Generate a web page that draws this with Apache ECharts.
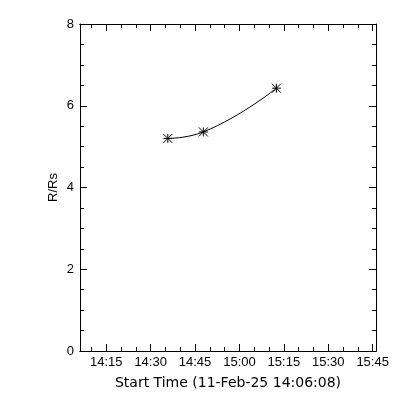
<!DOCTYPE html>
<html>
<head>
<meta charset="utf-8">
<script src="https://cdn.jsdelivr.net/npm/echarts@6/dist/echarts.min.js"></script>
<style>html,body{margin:0;padding:0;background:#fff}#c{width:400px;height:400px}</style>
</head>
<body>
<div id="c"></div>
<script>
// ---- data ----
const startTime = '14:06:08';
const endTime = '15:46:08';
const pointTimes = ['14:35:48', '14:47:48', '15:12:29'];
const pointHeights = [5.20, 5.36, 6.43];
const majorTickLabels = ['14:15', '14:30', '14:45', '15:00', '15:15', '15:30', '15:45'];
const minorTickTimes = ['14:10', '14:20', '14:25', '14:35', '14:40', '14:50', '14:55', '15:05', '15:10', '15:20', '15:25', '15:35', '15:40'];
const yTicks = [0, 2, 4, 6, 8];
const xTitle = 'Start Time (11-Feb-25 14:06:08)';
const yTitle = 'R/Rs';

function toMin(s) {
  const p = s.split(':').map(Number);
  return p[0] * 60 + p[1] + (p[2] || 0) / 60;
}
function fmt(v) {
  const h = Math.floor(v / 60), m = Math.round(v - h * 60);
  return h + ':' + (m < 10 ? '0' : '') + m;
}
const xMin = toMin(startTime), xMax = toMin(endTime);
const majors = majorTickLabels.map(toMin);
const minors = minorTickTimes.map(toMin);
const black = '#000';
const font = 'Liberation Sans';

function xAx(pos, ticks, len, labels) {
  return {
    type: 'value', position: pos, min: xMin, max: xMax,
    axisLine: { show: true, onZero: false, lineStyle: { color: black, width: 1 } },
    axisTick: { show: true, inside: true, length: len, customValues: ticks, lineStyle: { color: black, width: 1 } },
    axisLabel: labels ? { show: true, customValues: ticks, formatter: fmt, color: black, fontFamily: font, fontSize: 13, margin: 5 } : { show: false },
    splitLine: { show: false },
    name: labels ? xTitle : '', nameLocation: 'middle', nameGap: 25,
    nameTextStyle: { color: black, fontFamily: 'DejaVu Sans', fontSize: 14 }
  };
}
function yAx(pos, labels) {
  return {
    type: 'value', position: pos, min: yTicks[0], max: yTicks[yTicks.length - 1], interval: 2,
    axisLine: { show: true, onZero: false, lineStyle: { color: black, width: 1 } },
    axisTick: { show: true, inside: true, length: 7, lineStyle: { color: black, width: 1 } },
    minorTick: { show: true, splitNumber: 4, length: 4, lineStyle: { color: black, width: 1 } },
    axisLabel: labels ? { show: true, color: black, fontFamily: font, fontSize: 13, margin: 6 } : { show: false },
    splitLine: { show: false }, minorSplitLine: { show: false },
    name: labels ? yTitle : '', nameLocation: 'middle', nameGap: 20, nameRotate: 90,
    nameMoveOverlap: false,
    nameTextStyle: { color: black, fontFamily: font, fontSize: 13 }
  };
}

const chart = echarts.init(document.getElementById('c'), null, { renderer: 'canvas' });
chart.setOption({
  animation: false,
  backgroundColor: '#fff',
  grid: { left: 80, right: 24, top: 24, bottom: 49, containLabel: false },
  xAxis: [xAx('bottom', majors, 7, true), xAx('bottom', minors, 4, false), xAx('top', majors, 7, false), xAx('top', minors, 4, false)],
  yAxis: [yAx('left', true), yAx('right', false)],
  series: [{
    type: 'line',
    xAxisIndex: 0, yAxisIndex: 0,
    data: pointTimes.map((t, i) => [toMin(t), pointHeights[i]]),
    smooth: true,
    symbol: 'path://M5,0L5,10M0,5L10,5M0,0L10,10M0,10L10,0',
    symbolSize: 9,
    showSymbol: true,
    itemStyle: { color: black, borderColor: black, borderWidth: 1 },
    lineStyle: { color: black, width: 1 }
  }]
});
</script>
</body>
</html>
